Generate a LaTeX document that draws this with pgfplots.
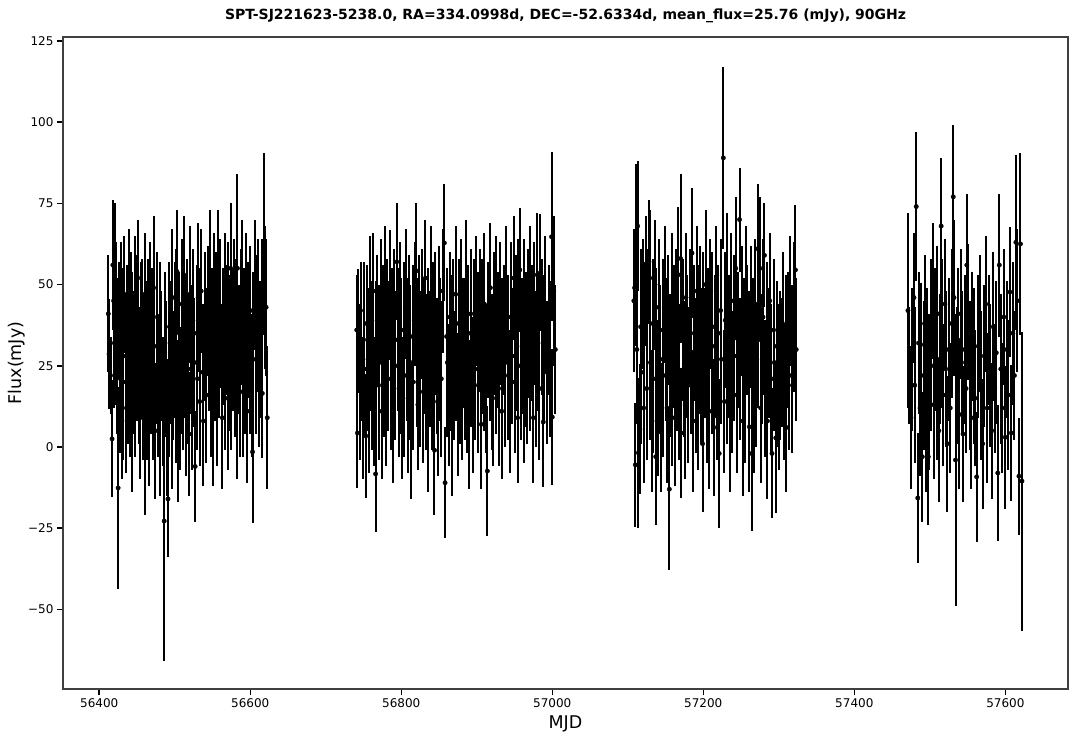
\documentclass[border=0pt]{standalone}
\usepackage{fontspec}
\setmainfont{DejaVu Sans}
\usepackage{pgfplots}
\usepackage{pgfplotstable}
\pgfplotsset{compat=1.18}
\pgfplotsset{fluxpts/.style={black, only marks, mark=*, mark size=2.2pt,
    error bars/.cd, y dir=both, y explicit, error mark=none,
    error bar style={line width=2pt, black}}}

% season 1
\pgfplotstableread[row sep=\\]{
x y e\\
56412 41 18\\ 56413 28.6 17\\ 56415 22 12\\ 56417 2.5 18\\ 56418 56 20\\ 56419 45 14\\ 56420 32 20\\ 56421 50 25\\
56422 38 25\\ 56423 21 17\\ 56424 30 22\\ 56425 -12.6 31\\ 56426 39 18\\ 56427 25 20\\ 56428 15 17\\ 56429 43 20\\
56430 8 18\\ 56431 33 22\\ 56432 20 24\\ 56433 47 18\\ 56435 28 19\\ 56436 12 20\\ 56437 35 21\\ 56438 24 23\\
56439 50 17\\ 56441 18 21\\ 56442 41 19\\ 56443 30 24\\ 56444 6 20\\ 56445 26 22\\ 56447 45 20\\ 56448 15 18\\
56449 36 23\\ 56450 28 20\\ 56451 52 18\\ 56453 22 21\\ 56454 9 19\\ 56455 33 24\\ 56456 40 18\\ 56458 18 22\\
56459 27 20\\ 56460 47 19\\ 56461 1 22\\ 56462 30 21\\ 56463 21 25\\ 56465 38 20\\ 56466 12 24\\ 56467 44 19\\
56468 26 22\\ 56470 34 21\\ 56471 16 20\\ 56472 49 22\\ 56473 23 18\\ 56474 5 21\\ 56476 31 24\\ 56477 40 20\\
56478 19 22\\ 56480 36 21\\ 56481 10 25\\ 56482 28 20\\ 56484 14 20\\ 56486 -22.8 43\\ 56487 32 22\\ 56488 24 21\\
56490 6 21\\ 56491 -16 18\\ 56492 20 23\\ 56493 37 20\\ 56494 29 22\\ 56496 11 24\\ 56497 46 21\\ 56498 22 20\\
56500 33 24\\ 56501 17 22\\ 56502 41 20\\ 56503 54 19\\ 56504 8 25\\ 56505 26 21\\ 56506 35 19\\ 56507 15 22\\
56509 44 20\\ 56510 28 24\\ 56511 20 21\\ 56512 53 18\\ 56514 31 22\\ 56515 12 21\\ 56516 38 20\\ 56518 24 23\\
56519 4 19\\ 56520 47 21\\ 56522 30 20\\ 56523 17 24\\ 56524 39 22\\ 56526 26 20\\ 56527 -6 17\\ 56529 35 21\\
56530 21 22\\ 56531 46 23\\ 56533 14 20\\ 56534 31 24\\ 56535 48 19\\ 56537 23 21\\ 56538 8 20\\ 56540 37 23\\
56541 27 22\\ 56542 16 21\\ 56544 42 20\\ 56545 33 22\\ 56547 52 21\\ 56548 20 23\\ 56549 35 20\\ 56551 12 24\\
56552 45 21\\ 56553 28 20\\ 56555 38 22\\ 56556 18 24\\ 56557 53 20\\ 56559 30 21\\ 56560 41 23\\ 56562 24 20\\
56563 9 22\\ 56564 34 21\\ 56566 47 19\\ 56567 22 23\\ 56568 36 20\\ 56570 15 22\\ 56571 42 21\\ 56573 29 24\\
56574 55 20\\ 56575 20 21\\ 56577 33 22\\ 56578 44 20\\ 56580 26 23\\ 56581 37 21\\ 56582 12 22\\ 56583 55 29\\
56585 30 20\\ 56586 21 24\\ 56588 40 21\\ 56589 48 22\\ 56590 17 20\\ 56592 32 23\\ 56593 25 21\\ 56595 46 20\\
56596 11 22\\ 56597 36 21\\ 56599 28 24\\ 56600 42 20\\ 56602 19 22\\ 56603 -1.5 22\\ 56604 33 21\\ 56606 50 20\\
56607 27 23\\ 56609 38 21\\ 56610 45 19\\ 56611 22 22\\ 56613 30 21\\ 56616 16.5 20\\ 56615 42 22\\ 56618.5 62.5 28\\
56619 46 22\\ 56621 43 21\\ 56622.5 9 22\\
}\seasonA

% season 2
\pgfplotstableread[row sep=\\]{
x y e\\
56741 36 17\\ 56742 4.3 17\\ 56743 35.7 19\\ 56745 20 24\\ 56746 42 15\\ 56747 29 21\\ 56749 12 22\\ 56750 33 24\\
56751 24 20\\ 56753 3.4 19\\ 56754 38 18\\ 56756 27 22\\ 56757 16 24\\ 56758 44 21\\ 56760 31 20\\ 56761 22 23\\
56763 48 18\\ 56764 14 20\\ 56766 -8.3 18\\ 56767 30 21\\ 56768 39 20\\ 56770 19 23\\ 56771 26 24\\ 56773 45 19\\
56774 11 21\\ 56776 34 22\\ 56777 23 20\\ 56779 50 18\\ 56780 16 22\\ 56781 37 21\\ 56783 28 23\\ 56785 46.8 20\\
56786 21 22\\ 56788 31 24\\ 56789 9 20\\ 56791 40 21\\ 56792 25 23\\ 56794 57 18\\ 56795 33 22\\ 56797 18 21\\
56798 43 20\\ 56800 28 24\\ 56801 12 22\\ 56803 36 21\\ 56804 22 25\\ 56806 47 20\\ 56807 30 22\\ 56809 15 23\\
56810 39 20\\ 56812 26 24\\ 56813 5 21\\ 56815 34 22\\ 56816 20 21\\ 56818 44 19\\ 56820 54.2 21\\ 56821 29 23\\
56822 13 20\\ 56824 37 22\\ 56825 24 24\\ 56827 41 20\\ 56829 17 22\\ 56830 31 21\\ 56832 52 18\\ 56833 23 24\\
56835 35 20\\ 56836 8 22\\ 56838 27 21\\ 56839 45 23\\ 56841 19 20\\ 56842 33 24\\ 56844 -1 20\\ 56845 38 22\\
56847 25 21\\ 56848 14 23\\ 56850 42 20\\ 56851 30 22\\ 56853 21 24\\ 56855 48 19\\ 56857 62.8 18\\ 56858 -11 17\\
56860 34 21\\ 56861 26 23\\ 56863 16 22\\ 56864 40 20\\ 56866 29 24\\ 56867 6 21\\ 56869 36 22\\ 56870 22 20\\
56872 47 21\\ 56873 31 23\\ 56875 13 22\\ 56876 38 20\\ 56878 25 24\\ 56879 43 21\\ 56881 18 22\\ 56882 32 20\\
56884 27 25\\ 56886 50 20\\ 56887 20 22\\ 56889 35 21\\ 56890 10 23\\ 56892 41 20\\ 56893 28 22\\ 56895 16 24\\
56896 37 21\\ 56898 24 22\\ 56899 45 20\\ 56901 31 23\\ 56902 19 21\\ 56904 39 22\\ 56906 7 20\\ 56907 34 24\\
56909 26 21\\ 56910 44 22\\ 56912 21 23\\ 56914 -7.4 20\\ 56915 36 21\\ 56917 30 22\\ 56918 49 20\\ 56920 23 24\\
56921 15 21\\ 56923 38 22\\ 56925 45 20\\ 56926 27 23\\ 56928 33 21\\ 56929 18 24\\ 56931 41 22\\ 56933 11 21\\
56934 29 23\\ 56936 36 20\\ 56937 22 22\\ 56939 47 21\\ 56941 26 24\\ 56942 33 20\\ 56944 14 22\\ 56945 40 23\\
56947 28 21\\ 56949 52 19\\ 56950 20 22\\ 56952 35 24\\ 56954 9 20\\ 56955 42 22\\ 56957 54.5 19\\ 56958 25 23\\
56960 31 21\\ 56962 17 22\\ 56963 44 20\\ 56965 30 24\\ 56966 22 21\\ 56968 38 23\\ 56970 48 20\\ 56971 27 22\\
56973 35 21\\ 56975 9 20\\ 56976 41 22\\ 56978 24 24\\ 56980 53 19\\ 56981 32 21\\ 56983 18 22\\ 56984 53.6 18\\
56986 37 21\\ 56988 7.7 20\\ 56989 30 23\\ 56991 44 21\\ 56993 23 22\\ 56995 36 20\\ 56997 27 24\\ 56999 64.7 26\\
57000 9.2 21\\ 57002 48 23\\ 57004 30 20\\
}\seasonB

% season 3
\pgfplotstableread[row sep=\\]{
x y e\\
57108 45 22\\ 57109 49 18\\ 57110 -5.5 19\\ 57111 66 21\\ 57112 30 23\\ 57113 68 20\\ 57114 -1.8 23\\ 57116 5.5 20\\
57117 37 24\\ 57118 23 22\\ 57120 44 20\\ 57121 12 23\\ 57122 32 25\\ 57124 51 20\\ 57125 18 22\\ 57126 40 21\\
57128 57 19\\ 57129 52 21\\ 57130 26 24\\ 57132 8 22\\ 57133 38 20\\ 57134 21 23\\ 57136 50 20\\ 57137 -3 21\\
57138 33 22\\ 57140 15 24\\ 57141 43 21\\ 57143 27 23\\ 57144 6 20\\ 57146 36 22\\ 57147 22 25\\ 57149 47 21\\
57150 30 22\\ 57152 12 23\\ 57153 39 20\\ 57155 -13 25\\ 57156 25 22\\ 57158 45 21\\ 57159 18 24\\ 57161 34 22\\
57162 9 21\\ 57164 41 20\\ 57165 28 23\\ 57167 53 21\\ 57168 20 24\\ 57170 58 26\\ 57171 4.3 20\\ 57173 36 22\\
57174 24 21\\ 57176 13 23\\ 57177 46 20\\ 57179 31 22\\ 57180 19 24\\ 57182 40 21\\ 57184 27 23\\ 57185 59.7 20\\
57187 8 22\\ 57188 35 21\\ 57190 22 24\\ 57191 48 20\\ 57193 15 22\\ 57194 33 23\\ 57196 42 20\\ 57197 25 24\\
57199 1 21\\ 57200 38 22\\ 57202 29 20\\ 57203 50 23\\ 57205 17 22\\ 57206 34 21\\ 57208 11 24\\ 57209 44 20\\
57211 26 22\\ 57212 37 23\\ 57214 6 21\\ 57215 31 22\\ 57217 48 20\\ 57218 20 24\\ 57220 35 21\\ 57221 -2 23\\
57223 42 22\\ 57224 27 20\\ 57226.5 89 28\\ 57228 14 22\\ 57229 39 21\\ 57231 24 23\\ 57232 52 20\\ 57234 31 22\\
57235 10 24\\ 57237 45 21\\ 57238 20 22\\ 57240 36 23\\ 57241 28 20\\ 57243 55 22\\ 57244 16 24\\ 57246 33 21\\
57248 70 16\\ 57249 24 22\\ 57251 42 20\\ 57252 8 23\\ 57254 30 22\\ 57255 19 24\\ 57257 47 21\\ 57258 36 20\\
57260 25 23\\ 57261 6.2 20\\ 57263 40 22\\ 57264 -2 24\\ 57266 31 21\\ 57267 15 23\\ 57269 44 20\\ 57270 22 22\\
57272 61 20\\ 57273 33 21\\ 57275 55 22\\ 57276 12 23\\ 57278 27 20\\ 57279 40 24\\ 57281 59 16\\ 57282 18 21\\
57284 35 22\\ 57285 8 24\\ 57287 29 20\\ 57288 45 21\\ 57290 21 23\\ 57291 -2 20\\ 57293 36 22\\ 57294 26 21\\
57296 2.8 23\\ 57297 31 20\\ 57299 22 22\\ 57300 14 21\\ 57302 25 23\\ 57304 26 20\\ 57305 38 22\\ 57307 17 21\\
57309 29 24\\ 57310 6 20\\ 57312 33 21\\ 57314 22 23\\ 57315 45 20\\ 57317 28 22\\ 57318 19 21\\ 57320 40 23\\
57322 54.5 20\\ 57323 30 22\\
}\seasonC

% season 4
\pgfplotstableread[row sep=\\]{
x y e\\
57471 42 30\\ 57473 25 18\\ 57475 9 22\\ 57477 26.8 22\\ 57479 46 20\\ 57480 19 24\\ 57482 74 23\\ 57484 -15.7 20\\
57485 32 22\\ 57487 12 21\\ 57488 31.5 19\\ 57490 -3 20\\ 57492 22 23\\ 57493 38 21\\ 57495 8 22\\ 57496 29 20\\
57498 -3 21\\ 57499 17 24\\ 57501 36 22\\ 57502 25 20\\ 57504 48 21\\ 57505 13 23\\ 57507 33 22\\ 57509 20 24\\
57510 41 21\\ 57512 5 22\\ 57513 27 20\\ 57515 68 21\\ 57516 35 23\\ 57518 16 22\\ 57520 44 20\\ 57521 24 24\\
57523 1 21\\ 57525 30 22\\ 57527 12 20\\ 57529 38 23\\ 57531 77 22\\ 57532 46 24\\ 57534 -4 45\\ 57536 22 21\\
57537 33 22\\ 57539 10 23\\ 57541 41 20\\ 57542 26 22\\ 57544 4 21\\ 57546 30 23\\ 57548 18 20\\ 57549 56 22\\
57551 41.6 21\\ 57553 22 23\\ 57555 9 22\\ 57556 34 20\\ 57558 25 24\\ 57560 15 21\\ 57562 -9.2 20\\ 57564 31 22\\
57566 38 21\\ 57568 19 23\\ 57570 1 20\\ 57572 28 22\\ 57574 44 21\\ 57576 12 23\\ 57578 33 20\\ 57580 22 22\\
57582 5 21\\ 57584 37 23\\ 57586 18 20\\ 57588 29 22\\ 57590 -8 21\\ 57592 56 22\\ 57594 24 23\\ 57596 12 20\\
57598 40 21\\ 57600 3 22\\ 57602 30 21\\ 57604 16 23\\ 57606 47.7 20\\ 57608 4.3 21\\ 57610 35 22\\ 57612 22 20\\
57614 63 27\\ 57616 45 22\\ 57618 -9 18\\ 57620 62.5 28\\ 57622 -10.5 46\\
}\seasonD

\begin{document}
\begin{tikzpicture}
\begin{axis}[
  width=1005pt, height=652pt, scale only axis,
  xmin=56352, xmax=57683, ymin=-74.5, ymax=126.2,
  scaled x ticks=false,
  xtick={56400,56600,56800,57000,57200,57400,57600},
  xticklabels={56400,56600,56800,57000,57200,57400,57600},
  ytick={-50,-25,0,25,50,75,100,125},
  yticklabels={−50,−25,0,25,50,75,100,125},
  xtick pos=lower, ytick pos=left,
  tick align=outside, major tick length=6pt,
  every tick/.style={black, line width=1.5pt},
  axis line style={black!75, line width=1.2pt},
  ticklabel style={font=\fontsize{12}{14}\selectfont},
  title={SPT-SJ221623-5238.0, RA=334.0998d, DEC=-52.6334d, mean\_flux=25.76 (mJy), 90GHz},
  title style={font=\fontsize{14}{16}\selectfont\bfseries, at={(axis description cs:0.5,1.0169)}, anchor=base},
  xlabel={MJD},
  xlabel style={font=\fontsize{17.5}{20}\selectfont, at={(axis description cs:0.5,-0.0613)}, anchor=base},
  ylabel={Flux(mJy)},
  ylabel style={font=\fontsize{17.5}{20}\selectfont, at={(axis description cs:-0.0408,0.5)}, anchor=base},
]
\addplot[fluxpts] table[x=x, y=y, y error=e] {\seasonA};
\addplot[fluxpts] table[x=x, y=y, y error=e] {\seasonB};
\addplot[fluxpts] table[x=x, y=y, y error=e] {\seasonC};
\addplot[fluxpts] table[x=x, y=y, y error=e] {\seasonD};
\end{axis}
\pgfresetboundingbox
\path (-63pt,-50pt) rectangle (1018pt,689pt);
\end{tikzpicture}
\end{document}
